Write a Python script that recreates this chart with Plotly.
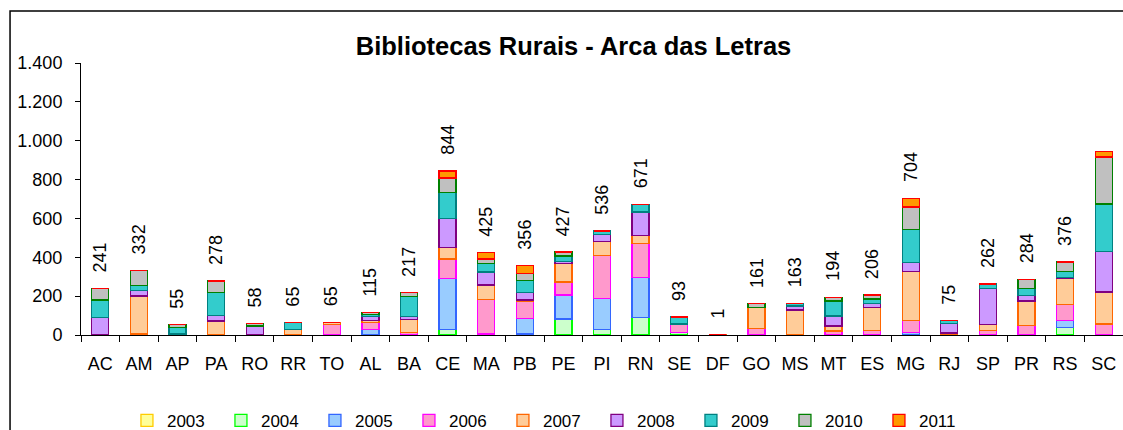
import plotly.graph_objects as go

states = ["AC","AM","AP","PA","RO","RR","TO","AL","BA","CE","MA","PB","PE","PI","RN","SE","DF","GO","MS","MT","ES","MG","RJ","SP","PR","RS","SC"]
years = ["2003","2004","2005","2006","2007","2008","2009","2010","2011"]

y2003 = [0,0,0,0,0,0,0,0,0,0,0,0,0,0,0,0,0,0,0,0,0,0,0,0,0,0,0]
y2004 = [0,0,0,0,0,0,0,0,0,29,0,5,82,29,89,12,0,0,0,0,0,0,0,0,0,38,0]
y2005 = [0,0,0,0,0,0,0,29,0,261,5,81,124,160,206,0,0,0,0,0,0,12,0,0,0,36,0]
y2006 = [0,5,0,0,0,0,55,34,12,101,177,86,67,222,177,45,0,33,0,20,22,62,0,22,48,82,57]
y2007 = [0,195,0,72,0,29,10,10,68,58,75,8,96,72,39,0,1,108,128,26,118,252,10,33,127,134,165]
y2008 = [90,30,5,29,47,0,0,24,14,149,67,39,10,34,122,0,0,0,22,52,22,48,51,186,29,7,208]
y2009 = [90,25,33,119,0,36,0,8,105,136,43,60,27,19,38,36,0,0,13,77,24,170,14,21,36,31,244]
y2010 = [61,77,17,58,11,0,0,10,18,74,24,39,21,0,0,0,0,20,0,19,20,115,0,0,44,48,242]
y2011 = [0,0,0,0,0,0,0,0,0,36,34,38,0,0,0,0,0,0,0,0,0,45,0,0,0,0,27]
labelled = [True]*26 + [False]

series = [y2003,y2004,y2005,y2006,y2007,y2008,y2009,y2010,y2011]
fills = ["#FFFF99","#CCFFCC","#99CCFF","#FF99CC","#FFCC99","#CC99FF","#33CCCC","#C0C0C0","#FF9900"]
edges = ["#FFCC00","#00FF00","#3366FF","#FF00FF","#FF6600","#800080","#008080","#008000","#FF0000"]

FONT = "Liberation Sans, Arial, sans-serif"

fig = go.Figure()
for name, vals, fc, ec in zip(years, series, fills, edges):
    fig.add_trace(go.Bar(x=states, y=vals, name=name,
                         marker=dict(color=fc, line=dict(color=ec, width=1.3))))

totals = [sum(s[i] for s in series) for i in range(len(states))]
for st, tot, show in zip(states, totals, labelled):
    if show:
        fig.add_annotation(x=st, y=tot, text=str(tot), textangle=-90, showarrow=False,
                           xanchor="center", yanchor="bottom", yshift=14,
                           font=dict(family=FONT, size=18, color="black"))

# outer chart border
fig.add_shape(type="rect", xref="paper", yref="paper", x0=-0.0681, x1=1.05, y0=-0.5, y1=1.191,
              line=dict(color="black", width=1.5), fillcolor="rgba(0,0,0,0)", layer="below")

fig.update_layout(
    width=1123, height=430,
    margin=dict(l=81, r=0, t=63, b=95, autoexpand=False),
    paper_bgcolor="white", plot_bgcolor="white",
    barmode="stack", bargap=0.56,
    separators=",.",
    font=dict(family=FONT, size=18, color="black"),
    title=dict(text="<b>Bibliotecas Rurais - Arca das Letras</b>", x=0.5107, xref="container",
               xanchor="center", y=0.893, yanchor="middle", font=dict(size=25.5)),
    legend=dict(orientation="h", x=0.0441, xanchor="left", y=-0.382, yanchor="bottom",
                entrywidth=49, entrywidthmode="pixels", font=dict(size=17),
                traceorder="normal"),
    showlegend=True,
)
fig.update_xaxes(type="category", showline=True, linecolor="black", linewidth=1,
                 ticks="outside", tickson="boundaries", ticklen=6, tickcolor="black",
                 showgrid=False, range=[-0.5, 26.5], tickfont=dict(size=18),
                 ticklabelstandoff=12)
fig.update_yaxes(range=[0, 1400], dtick=200, tickformat=",d", showline=True, linecolor="black",
                 linewidth=1, ticks="outside", ticklen=5, tickcolor="black", showgrid=False,
                 zeroline=False, tickfont=dict(size=18), ticklabelstandoff=9)

fig.write_html("out.html", config={"displayModeBar": False},
               post_script="document.body.style.margin='0';")
